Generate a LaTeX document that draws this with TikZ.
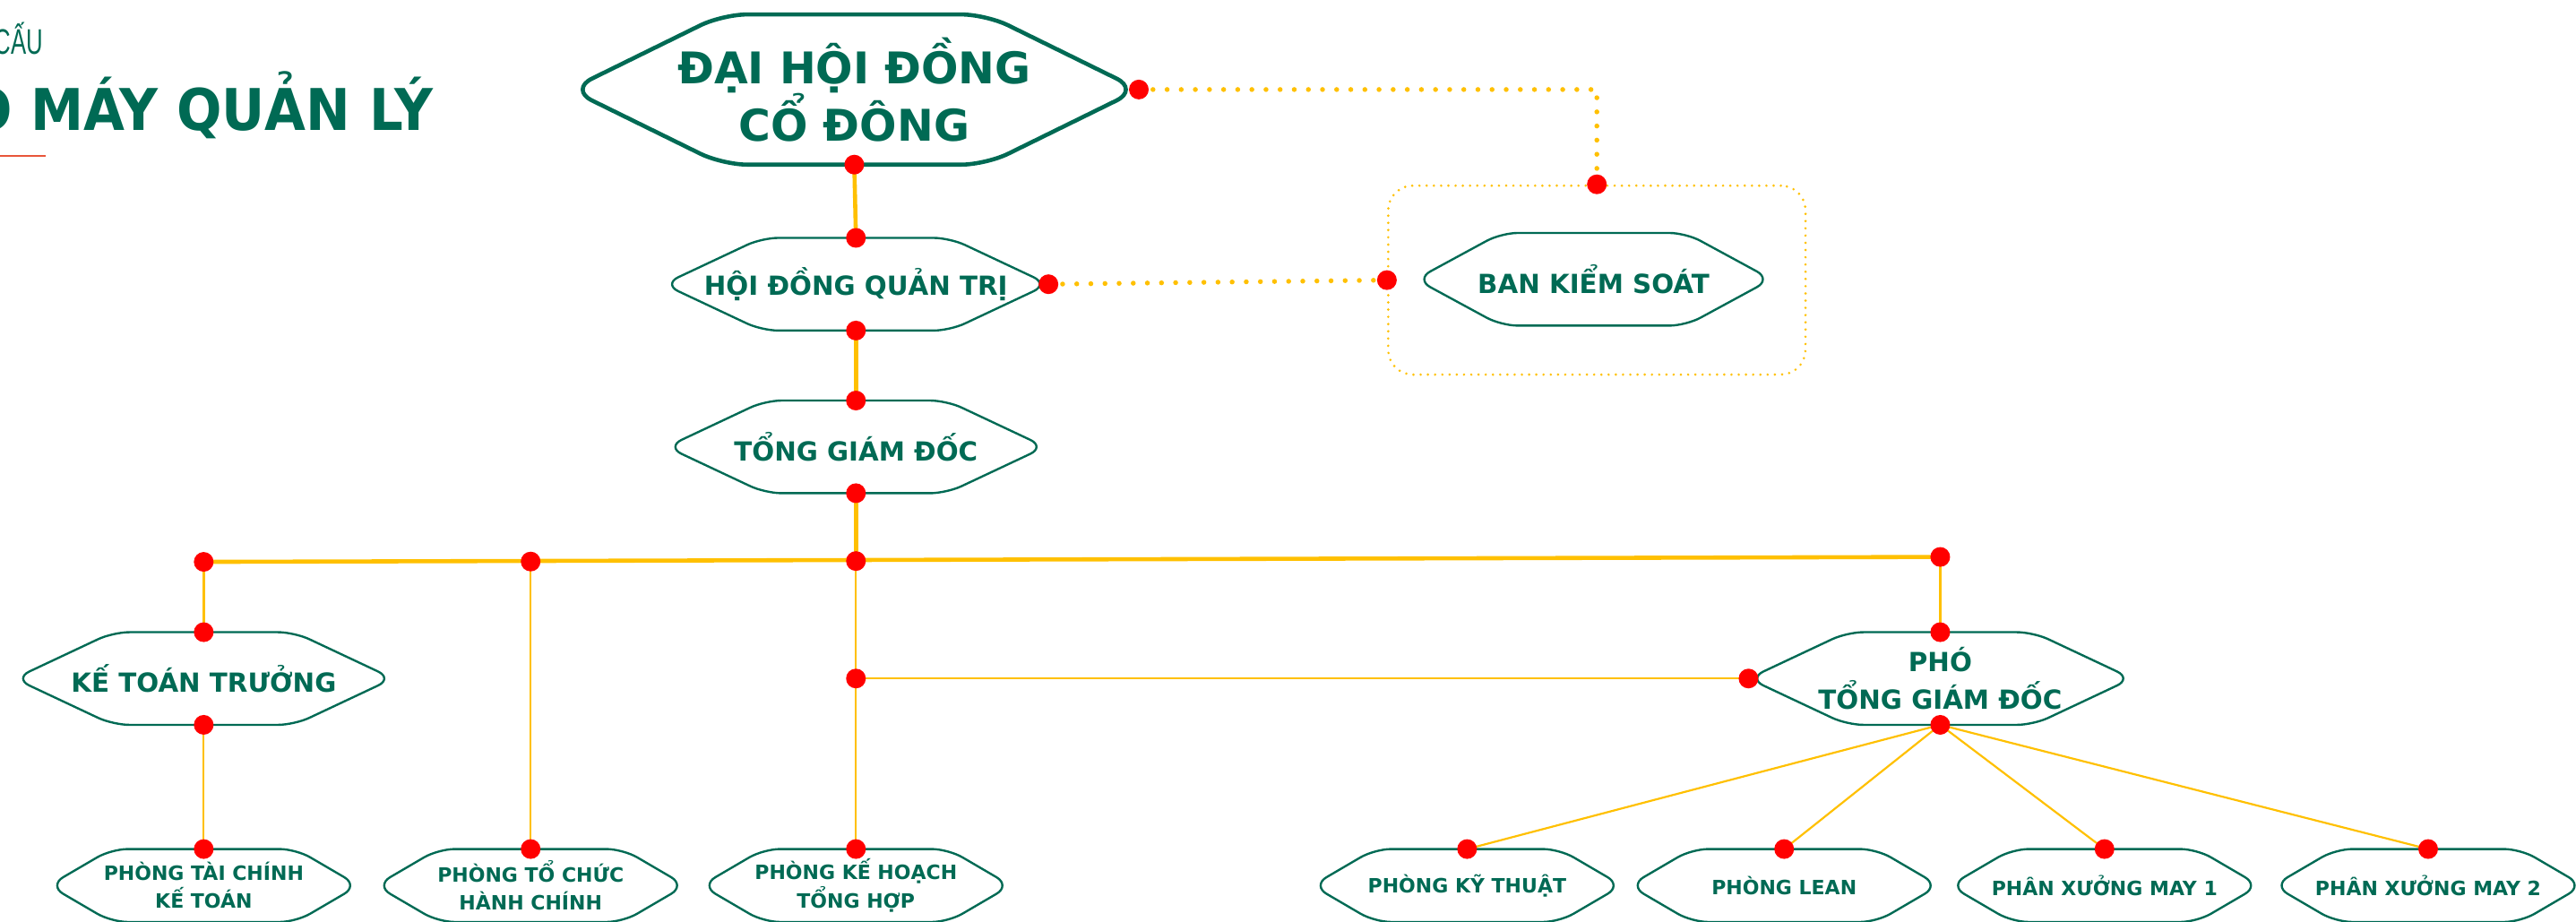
\documentclass[tikz,border=0pt]{standalone}
\usepackage{fontspec}
\usepackage{graphicx}
\setmainfont{DejaVu Sans}
\newfontfamily\titlefont{Liberation Sans}
\usetikzlibrary{calc}
\definecolor{dgreen}{HTML}{006A54}
\definecolor{gold}{HTML}{FFC000}
\definecolor{dotred}{HTML}{FF0000}
\definecolor{ulred}{HTML}{E8553A}
\tikzset{
  box/.style n args={2}{inner sep=0pt, text=dgreen, align=center,
     minimum width=#1pt, minimum height=#2pt},
  bigt/.style={font=\bfseries\fontsize{26.6}{35}\selectfont},
  midt/.style={font=\bfseries\fontsize{16}{23}\selectfont},
  smlt/.style={font=\bfseries\fontsize{12}{17}\selectfont},
  hexline/.style={draw=dgreen, line width=1.3pt, rounded corners=10pt},
  thickc/.style={draw=gold, line width=2.5pt},
  medc/.style={draw=gold, line width=1.6pt},
  thinc/.style={draw=gold, line width=1.2pt},
  dotline/.style={draw=gold, line width=3pt, line cap=round, dash pattern=on 0pt off 8.6pt},
}
\newcommand\hexpath[3]{%
  \draw[hexline,#3] ([xshift=#2pt]#1.north west) -- ([xshift=-#2pt]#1.north east) -- (#1.east)
    -- ([xshift=-#2pt]#1.south east) -- ([xshift=#2pt]#1.south west) -- (#1.west) -- cycle;}
\newcommand\rdot[1]{\fill[dotred] (#1) circle (6pt);}
\begin{document}
\begin{tikzpicture}[x=1pt,y=-1pt]
\useasboundingbox (0,0) rectangle (1568,561);

% title
\node[anchor=base east, inner sep=0pt, text=dgreen] (t1) at (26.5,33)
  {\titlefont\fontsize{21.6}{22}\selectfont\scalebox{0.65}[1]{CẤU}};
\node[anchor=base east, inner sep=0pt, text=dgreen] (t2) at (264,79.5)
  {\bfseries\fontsize{35}{36}\selectfont\scalebox{0.925}[1]{Ộ MÁY QUẢN LÝ}};
\draw[ulred, line width=1pt] (0,95) -- (28,95);

% nodes
\node[box={346}{91}, bigt] (dhd) at (520,54.5) {ĐẠI HỘI ĐỒNG\\CỔ ĐÔNG};
\node[box={234}{56}, midt] (hdqt) at (521,173) {HỘI ĐỒNG QUẢN TRỊ};
\node[box={230}{56}, midt] (tgd) at (521,272) {TỔNG GIÁM ĐỐC};
\node[box={216}{56}, midt] (bks) at (970,170) {BAN KIỂM SOÁT};
\node[draw=gold, line width=1.6pt, line cap=round, dash pattern=on 0pt off 4.4pt,
      rounded corners=15pt, minimum width=254pt, minimum height=115pt, inner sep=0pt]
      (bksbox) at (972,170.5) {};
\node[box={230}{56}, midt] (ktt) at (124,413) {KẾ TOÁN TRƯỞNG};
\node[box={233}{56}, midt] (ptgd) at (1181,413) {PHÓ\\TỔNG GIÁM ĐỐC};

\node[box={188}{44}, smlt] (ptc) at (124,539) {PHÒNG TÀI CHÍNH\\KẾ TOÁN};
\node[box={188}{44}, smlt] (ptchc) at (323,539) {PHÒNG TỔ CHỨC\\HÀNH CHÍNH};
\node[box={188}{44}, smlt] (pkh) at (521,539) {PHÒNG KẾ HOẠCH\\TỔNG HỢP};
\node[box={188}{44}, smlt] (pkt) at (893,539) {PHÒNG KỸ THUẬT};
\node[box={188}{44}, smlt] (plean) at (1086,539) {PHÒNG LEAN};
\node[box={188}{44}, smlt] (px1) at (1281,539) {PHÂN XƯỞNG MAY 1};
\node[box={188}{44}, smlt] (px2) at (1478,539) {PHÂN XƯỞNG MAY 2};

% coordinates
\coordinate (b1) at (ktt.north |- 0,342);
\coordinate (b2) at (ptchc.north |- 0,341.8);
\coordinate (b3) at (tgd.south |- 0,341.5);
\coordinate (b4) at (ptgd.north |- 0,339);
\coordinate (m1) at (pkh.north |- ptgd.west);
\coordinate (c1) at (bksbox.north |- dhd.east);

% connectors
\draw[thickc] (dhd.south) -- (hdqt.north);
\draw[thickc] (hdqt.south) -- (tgd.north);
\draw[thickc] (tgd.south) -- (b3);
\draw[thickc] (b1) -- (b4);
\draw[medc] (b1) -- (ktt.north);
\draw[medc] (b4) -- (ptgd.north);
\draw[thinc] (ktt.south) -- (ptc.north);
\draw[thinc] (b2) -- (ptchc.north);
\draw[thinc] (b3) -- (pkh.north);
\draw[thinc] (m1) -- (ptgd.west);
\draw[thinc] (ptgd.south) -- (pkt.north);
\draw[thinc] (ptgd.south) -- (plean.north);
\draw[thinc] (ptgd.south) -- (px1.north);
\draw[thinc] (ptgd.south) -- (px2.north);
\draw[dotline] (dhd.east) -- (c1) -- (bksbox.north);
\draw[dotline] (hdqt.east) -- (bksbox.west);

% hexagons
\hexpath{dhd}{93}{line width=2.5pt, rounded corners=15pt}
\hexpath{hdqt}{60}{}
\hexpath{tgd}{60}{}
\hexpath{bks}{52}{}
\hexpath{ktt}{60}{}
\hexpath{ptgd}{60}{}
\hexpath{ptc}{38}{}
\hexpath{ptchc}{38}{}
\hexpath{pkh}{38}{}
\hexpath{pkt}{38}{}
\hexpath{plean}{38}{}
\hexpath{px1}{38}{}
\hexpath{px2}{38}{}

% dots
\rdot{dhd.east}\rdot{dhd.south}
\rdot{hdqt.north}\rdot{hdqt.south}\rdot{hdqt.east}
\rdot{tgd.north}\rdot{tgd.south}
\rdot{bksbox.north}\rdot{bksbox.west}
\rdot{b1}\rdot{b2}\rdot{b3}\rdot{b4}
\rdot{ktt.north}\rdot{ktt.south}
\rdot{ptgd.north}\rdot{ptgd.west}\rdot{ptgd.south}\rdot{m1}
\rdot{ptc.north}\rdot{ptchc.north}\rdot{pkh.north}
\rdot{pkt.north}\rdot{plean.north}\rdot{px1.north}\rdot{px2.north}
\end{tikzpicture}
\end{document}
